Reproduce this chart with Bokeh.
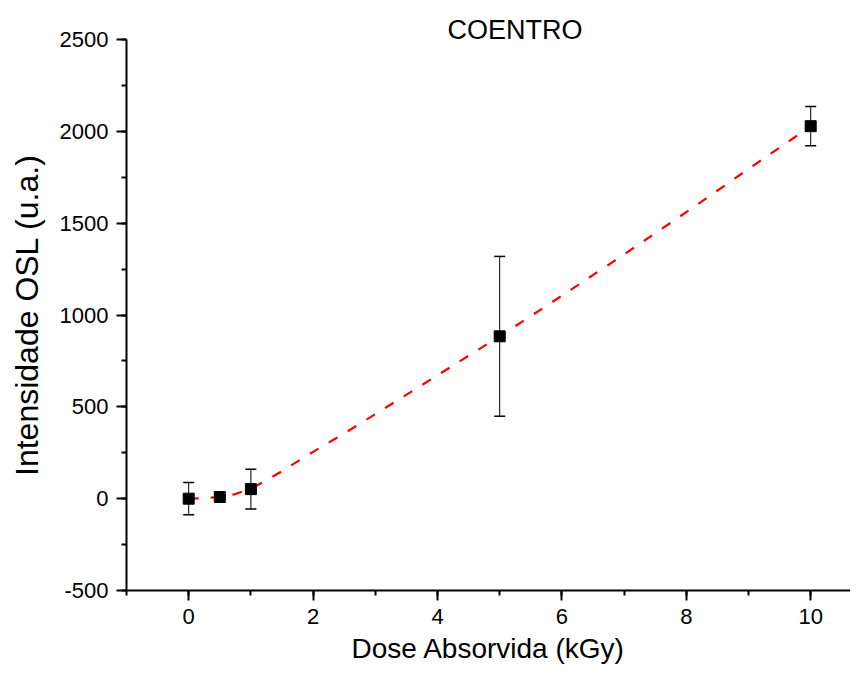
from bokeh.plotting import figure
from bokeh.models import Whisker, TeeHead, ColumnDataSource, Range1d, SingleIntervalTicker, PrintfTickFormatter
from bokeh.embed import file_html
from bokeh.resources import INLINE

# Data
dose = [0, 0.5, 1, 5, 10]
intensity = [0, 9, 52, 884, 2028]
error = [88, 5, 108, 435, 107]

# Red dashed guide curve
curve_dose = [0, 0.25, 0.5, 0.75, 1, 1.25, 1.5, 2, 2.5, 3, 4, 5, 6, 7, 8, 9, 10]
curve_intensity = [0, 3, 9, 25, 55, 100, 150, 255, 355, 460, 672, 884, 1105, 1330, 1560, 1795, 2028]

title_text = "COENTRO"
x_label = "Dose Absorvida (kGy)"
y_label = "Intensidade OSL (u.a.)"

FONT = "Liberation Sans"

p = figure(width=850, height=666, output_backend="svg", toolbar_location=None,
           x_range=Range1d(-1, 10.64), y_range=Range1d(-500, 2500),
           min_border_left=126, min_border_right=0, min_border_top=39, min_border_bottom=76,
           title=title_text)
p.outline_line_color = None
p.xgrid.visible = False
p.ygrid.visible = False
p.background_fill_color = "white"
p.border_fill_color = "white"

p.title.align = "left"
p.title.text_font = FONT
p.title.text_font_size = "27px"
p.title.text_font_style = "normal"
p.title.text_color = "black"
p.title.standoff = -11
p.title.offset = 321

src = ColumnDataSource(dict(x=dose, y=intensity,
                            upper=[v + e for v, e in zip(intensity, error)],
                            lower=[v - e for v, e in zip(intensity, error)]))

p.line(curve_dose, curve_intensity, line_color="#FF0000", line_width=2.2, line_dash="10 12")

w = Whisker(source=src, base="x", upper="upper", lower="lower",
            line_color="black", line_width=1,
            upper_head=TeeHead(size=11, line_color="black", line_width=1.5),
            lower_head=TeeHead(size=11, line_color="black", line_width=1.5))
p.add_layout(w)

p.scatter("x", "y", source=src, marker="square", size=11, fill_color="black", line_color="black")

for ax in (p.xaxis[0], p.yaxis[0]):
    ax.axis_line_width = 2
    ax.major_tick_line_width = 2
    ax.minor_tick_line_width = 2
    ax.major_tick_in = 0
    ax.major_tick_out = 10
    ax.minor_tick_in = 0
    ax.minor_tick_out = 5
    ax.major_label_text_font = FONT
    ax.major_label_text_font_size = "22px"
    ax.major_label_text_color = "black"
    ax.axis_label_text_font = FONT
    ax.axis_label_text_font_style = "normal"
    ax.axis_label_text_color = "black"
    ax.formatter = PrintfTickFormatter(format="%d")

p.xaxis.ticker = SingleIntervalTicker(interval=2, num_minor_ticks=2)
p.yaxis.ticker = SingleIntervalTicker(interval=500, num_minor_ticks=2)
p.xaxis.axis_label = x_label
p.yaxis.axis_label = y_label
p.xaxis.axis_label_text_font_size = "28px"
p.yaxis.axis_label_text_font_size = "32px"
p.xaxis.major_label_standoff = 8
p.yaxis.major_label_standoff = 8
p.xaxis.axis_label_standoff = 6
p.yaxis.axis_label_standoff = 12

open("out.html", "w").write(file_html(p, INLINE))
